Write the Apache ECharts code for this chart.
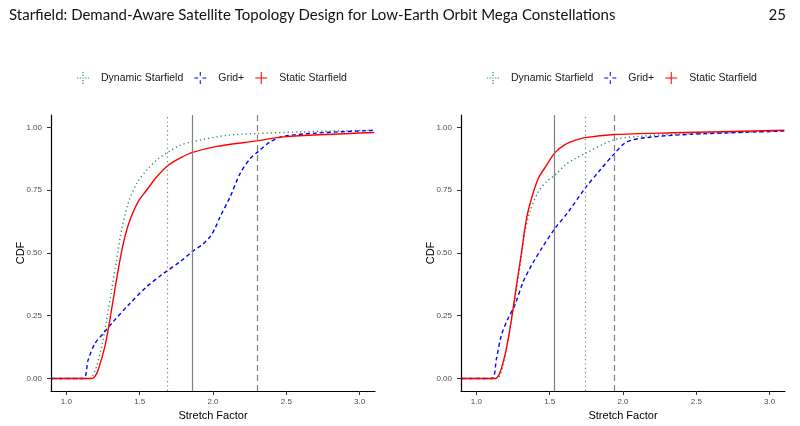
<!DOCTYPE html>
<html>
<head>
<meta charset="utf-8">
<script src="https://cdn.jsdelivr.net/npm/echarts@6/dist/echarts.min.js"></script>
<style>
html, body { margin: 0; padding: 0; background: #fff; }
#chart { width: 800px; height: 426px; }
</style>
</head>
<body>
<div id="chart"></div>
<script>
const pageTitle = 'Starfield: Demand-Aware Satellite Topology Design for Low-Earth Orbit Mega Constellations'
const pageNumber = '25'
const seriesNames = ['Dynamic Starfield', 'Grid+', 'Static Starfield']
const xTicks = [1.0, 1.5, 2.0, 2.5, 3.0]
const yTicks = [0, 0.25, 0.5, 0.75, 1]

// left panel, [stretch factor, cdf]
const leftDynamic = [[0.9, 0], [1.16, 0], [1.18, 0.012], [1.205, 0.046], [1.24, 0.126], [1.274, 0.232], [1.308, 0.352], [1.342, 0.471], [1.376, 0.591], [1.421, 0.697], [1.479, 0.777], [1.547, 0.83], [1.627, 0.876], [1.695, 0.903], [1.775, 0.929], [1.855, 0.943], [2.094, 0.969], [2.3, 0.976], [2.6, 0.983], [3.1, 0.989]]
const leftGrid = [[0.9, 0], [1.114, 0], [1.148, 0.073], [1.194, 0.139], [1.251, 0.179], [1.319, 0.226], [1.433, 0.299], [1.547, 0.365], [1.661, 0.418], [1.775, 0.465], [1.855, 0.504], [1.93, 0.535], [1.98, 0.565], [2.015, 0.6], [2.048, 0.644], [2.117, 0.724], [2.185, 0.817], [2.253, 0.876], [2.299, 0.9], [2.39, 0.943], [2.481, 0.965], [2.709, 0.978], [3.1, 0.989]]
const leftStatic = [[0.9, 0], [1.175, 0], [1.195, 0.008], [1.216, 0.033], [1.262, 0.126], [1.296, 0.232], [1.33, 0.352], [1.365, 0.471], [1.399, 0.564], [1.433, 0.631], [1.49, 0.705], [1.547, 0.75], [1.615, 0.803], [1.695, 0.85], [1.775, 0.878], [1.855, 0.9], [2.026, 0.925], [2.299, 0.947], [2.481, 0.963], [3.1, 0.98]]
const leftMarks = [1.69, 2.30, 1.86]

// right panel
const rightDynamic = [[0.9, 0], [1.14, 0], [1.16, 0.012], [1.18, 0.05], [1.215, 0.15], [1.25, 0.27], [1.285, 0.4], [1.31, 0.5], [1.33, 0.58], [1.365, 0.665], [1.422, 0.743], [1.479, 0.785], [1.536, 0.81], [1.604, 0.85], [1.672, 0.876], [1.74, 0.896], [1.941, 0.952], [2.117, 0.965], [2.344, 0.973], [3.1, 0.986]]
const rightGrid = [[0.9, 0], [1.103, 0], [1.137, 0.08], [1.171, 0.173], [1.216, 0.239], [1.262, 0.292], [1.319, 0.385], [1.376, 0.451], [1.445, 0.518], [1.536, 0.598], [1.627, 0.664], [1.74, 0.757], [1.843, 0.83], [1.941, 0.896], [2.026, 0.943], [2.162, 0.96], [2.458, 0.973], [3.1, 0.986]]
const rightStatic = [[0.9, 0], [1.132, 0], [1.15, 0.01], [1.171, 0.04], [1.205, 0.12], [1.24, 0.239], [1.274, 0.372], [1.308, 0.504], [1.342, 0.637], [1.376, 0.717], [1.422, 0.797], [1.479, 0.85], [1.536, 0.9], [1.604, 0.932], [1.672, 0.949], [1.74, 0.96], [1.941, 0.972], [2.344, 0.979], [3.1, 0.989]]
const rightMarks = [1.736, 1.941, 1.533]

const colors = ['#2e8b57', '#0000ff', '#ff0000']
const curveTypes = [[1.2, 3], [4, 3], 'solid']
const markTypes = [[1.2, 3.2], [6, 4], 'solid']
const icons = [
  'path://M0,6.3h1.4v1.4h-1.4z M3.15,6.3h1.4v1.4h-1.4z M9.45,6.3h1.4v1.4h-1.4z M12.6,6.3h1.4v1.4h-1.4z M6.3,0h1.4v1.4h-1.4z M6.3,3.15h1.4v1.4h-1.4z M6.3,6.3h1.4v1.4h-1.4z M6.3,9.45h1.4v1.4h-1.4z M6.3,12.6h1.4v1.4h-1.4z',
  'path://M0,6.4h4.5v1.2h-4.5z M9.5,6.4h4.5v1.2h-4.5z M6.4,0h1.2v4.5h-1.2z M6.4,9.5h1.2v4.5h-1.2z',
  'path://M0,6.4h14v1.2h-14z M6.4,0h1.2v14h-1.2z'
]

const font = 'Liberation Sans'

function makeX(gridIndex) {
  return {
    type: 'value',
    gridIndex,
    min: 0.895,
    max: 3.105,
    name: 'Stretch Factor',
    nameLocation: 'middle',
    nameGap: 19,
    nameMoveOverlap: false,
    nameTextStyle: { fontFamily: font, fontSize: 11, color: '#000' },
    axisLine: { onZero: false, lineStyle: { color: '#000', width: 1.2 } },
    axisTick: { customValues: xTicks, length: 4, lineStyle: { color: '#333' } },
    axisLabel: {
      customValues: xTicks,
      margin: 7,
      fontFamily: font,
      fontSize: 8,
      color: '#4d4d4d',
      formatter: v => v.toFixed(1)
    },
    splitLine: { show: false }
  }
}

function makeY(gridIndex) {
  return {
    type: 'value',
    gridIndex,
    min: -0.05,
    max: 1.05,
    name: 'CDF',
    nameLocation: 'middle',
    nameGap: 25,
    nameMoveOverlap: false,
    nameRotate: 90,
    nameTextStyle: { fontFamily: font, fontSize: 11, color: '#000' },
    axisLine: { onZero: false, lineStyle: { color: '#000', width: 1.2 } },
    axisTick: { customValues: yTicks, length: 4, lineStyle: { color: '#333' } },
    axisLabel: {
      customValues: yTicks,
      margin: 9,
      fontFamily: font,
      fontSize: 8,
      color: '#4d4d4d',
      formatter: v => v.toFixed(2)
    },
    splitLine: { show: false }
  }
}

function makeSeries(gridIndex, curves, marks) {
  return curves.map((data, i) => ({
    name: seriesNames[i],
    type: 'line',
    xAxisIndex: gridIndex,
    yAxisIndex: gridIndex,
    data,
    smooth: 0.3,
    symbol: 'none',
    itemStyle: { color: colors[i] },
    lineStyle: { color: colors[i], width: 1.4, type: curveTypes[i] },
    markLine: {
      silent: true,
      symbol: 'none',
      label: { show: false },
      lineStyle: { color: '#808080', width: 1.2, type: markTypes[i] },
      data: [{ xAxis: marks[i] }]
    },
    z: 2 + i
  }))
}

function makeLegend(left) {
  return {
    left,
    top: 72,
    padding: 0,
    itemWidth: 12,
    itemHeight: 12,
    itemGap: 11,
    data: seriesNames.map((name, i) => ({ name, icon: icons[i] })),
    itemStyle: { borderWidth: 0 },
    textStyle: { fontFamily: font, fontSize: 10.5, color: '#1a1a1a', padding: [0, 0, 0, 7] },
    selectedMode: false
  }
}

const chart = echarts.init(document.getElementById('chart'))
chart.setOption({
  animation: false,
  backgroundColor: '#fff',
  title: [
    { text: pageTitle, left: 4, top: 3, textStyle: { fontFamily: 'Lato', fontSize: 15, fontWeight: 'normal', color: '#111' } },
    { text: pageNumber, right: 9, top: 3, textStyle: { fontFamily: 'Lato', fontSize: 15, fontWeight: 'normal', color: '#111' } }
  ],
  legend: [makeLegend(77), makeLegend(487)],
  grid: [
    { left: 51, top: 115, width: 324, height: 276, outerBoundsMode: 'none' },
    { left: 461, top: 115, width: 324, height: 276, outerBoundsMode: 'none' }
  ],
  xAxis: [makeX(0), makeX(1)],
  yAxis: [makeY(0), makeY(1)],
  series: [
    ...makeSeries(0, [leftDynamic, leftGrid, leftStatic], leftMarks),
    ...makeSeries(1, [rightDynamic, rightGrid, rightStatic], rightMarks)
  ]
})
</script>
</body>
</html>
